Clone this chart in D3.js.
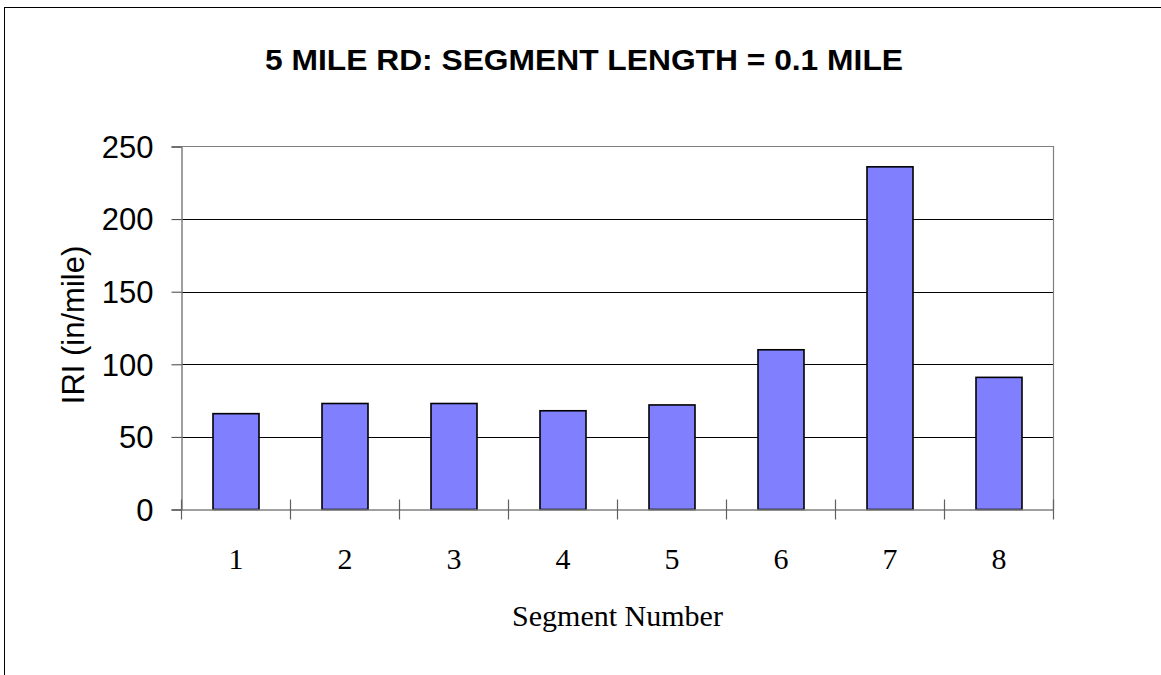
<!DOCTYPE html>
<html><head><meta charset="utf-8">
<script src="https://cdn.jsdelivr.net/npm/d3@7"></script>
<style>html,body{margin:0;padding:0;background:#fff;overflow:hidden}</style>
</head><body>
<svg id="chart" width="1161" height="675"></svg>
<script>
const categories = ["1","2","3","4","5","6","7","8"];
const iriValues = [66, 73, 73, 68, 72, 110, 236, 91];
const yTicks = [0, 50, 100, 150, 200, 250];
const titleText = "5 MILE RD: SEGMENT LENGTH = 0.1 MILE";
const xTitle = "Segment Number";
const yTitle = "IRI (in/mile)";

const svg = d3.select("#chart");
const L = 181.5, R = 1053.5, T = 146.5, B = 509.5;

// outer frame
svg.append("rect").attr("x", 4.5).attr("y", 7.5).attr("width", 1170).attr("height", 700)
  .attr("fill", "#fff").attr("stroke", "#000").attr("stroke-width", 1);

const x = d3.scaleBand().domain(categories).range([L, R]).paddingInner(0).paddingOuter(0);
const y = d3.scaleLinear().domain([0, 250]).range([B, T]);

// gridlines
svg.append("g").selectAll("line").data(yTicks.filter(d => d > 0 && d < 250)).join("line")
  .attr("x1", L).attr("x2", R).attr("y1", d => Math.round(y(d)) + 0.5).attr("y2", d => Math.round(y(d)) + 0.5)
  .attr("stroke", "#000").attr("stroke-width", 1);

// plot border top & right
svg.append("path").attr("d", `M${L},${T}H${R}V${B}`).attr("fill", "none")
  .attr("stroke", "#808080").attr("stroke-width", 1.2);

// bars
const bw = 46;
svg.append("g").selectAll("rect").data(iriValues).join("rect")
  .attr("x", (d, i) => x(categories[i]) + x.bandwidth() / 2 - bw / 2)
  .attr("width", bw)
  .attr("y", d => y(d))
  .attr("height", d => y(0) - y(d))
  .attr("fill", "#8080FF").attr("stroke", "#000").attr("stroke-width", 1.6);

// y axis
const yAxis = d3.axisLeft(y).tickValues(yTicks).tickSize(10).tickPadding(18);
const gy = svg.append("g").attr("transform", `translate(${L},0)`).call(yAxis);
gy.select(".domain").attr("stroke", "#808080").attr("stroke-width", 1.5);
gy.selectAll(".tick line").attr("stroke", "#404040");
gy.selectAll("text").attr("font-family", "Liberation Sans, Arial, sans-serif").attr("font-size", 31)
  .attr("fill", "#000").attr("dy", "0.35em");

// x axis
const xAxis = d3.axisBottom(x).tickSize(0).tickPadding(0);
const gx = svg.append("g").attr("transform", `translate(0,${B})`).call(xAxis);
gx.select(".domain").attr("stroke", "#808080").attr("stroke-width", 1.5);
gx.selectAll("text").attr("font-family", "Liberation Serif, Times New Roman, serif").attr("font-size", 30)
  .attr("fill", "#000").attr("y", 59).attr("dy", 0);
// category boundary ticks
const bounds = categories.map(c => x(c)).concat([R]);
svg.append("g").selectAll("line").data(bounds).join("line")
  .attr("x1", d => d).attr("x2", d => d).attr("y1", B - 10).attr("y2", B + 10)
  .attr("stroke", "#606060").attr("stroke-width", 1.2);

// titles
svg.append("text").attr("x", 584).attr("y", 70).attr("text-anchor", "middle")
  .attr("font-family", "Liberation Sans, Arial, sans-serif").attr("font-weight", "bold")
  .attr("font-size", 30).attr("textLength", 638).attr("lengthAdjust", "spacingAndGlyphs")
  .text(titleText);

svg.append("text").attr("x", (L + R) / 2).attr("y", 626).attr("text-anchor", "middle")
  .attr("font-family", "Liberation Serif, Times New Roman, serif").attr("font-size", 30).text(xTitle);

svg.append("text").attr("transform", `translate(84,325) rotate(-90)`).attr("text-anchor", "middle")
  .attr("font-family", "Liberation Sans, Arial, sans-serif").attr("font-size", 31).text(yTitle);
</script>
</body></html>
